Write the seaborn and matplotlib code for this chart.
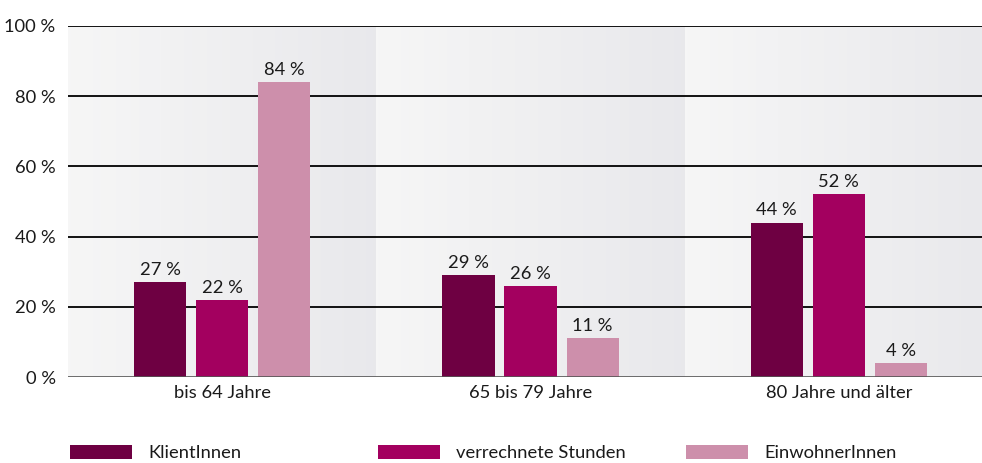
import numpy as np
import pandas as pd
import matplotlib
matplotlib.use("Agg")
import matplotlib.pyplot as plt
import seaborn as sns
from matplotlib.patches import Patch

categories = ["bis 64 Jahre", "65 bis 79 Jahre", "80 Jahre und älter"]
series_names = ["KlientInnen", "verrechnete Stunden", "EinwohnerInnen"]
klienten = [27, 29, 44]
stunden = [22, 26, 52]
einwohner = [84, 11, 4]
yticks = [0, 20, 40, 60, 80, 100]
colors = ["#6e0042", "#a3005f", "#cd8fab"]

rows = []
for name, vals in zip(series_names, [klienten, stunden, einwohner]):
    for c, v in zip(categories, vals):
        rows.append({"Gruppe": c, "Serie": name, "Wert": v})
df = pd.DataFrame(rows)

sns.set_theme(style="white")
plt.rcParams["font.family"] = ["Lato", "DejaVu Sans"]
FS = 13.2

fig = plt.figure(figsize=(9.82, 4.63), dpi=100)
ax = fig.add_axes([68/982, 1-377/463, 1-68/982, (377-26)/463])

xmax = 2.5 - 11/308
grad = np.linspace(0, 1, 256)
for i in range(3):
    c0 = np.array([0.965, 0.965, 0.965])
    c1 = np.array([0.912, 0.912, 0.925])
    img = (c0[None, :] * (1 - grad[:, None]) + c1[None, :] * grad[:, None])[None, :, :]
    ax.imshow(img, extent=[i-0.5, i+0.5, 0, 100], aspect="auto", zorder=0,
              interpolation="bilinear")

sns.barplot(data=df, x="Gruppe", y="Wert", hue="Serie", palette=colors,
            width=0.604, gap=0.16, ax=ax, legend=False, zorder=3,
            saturation=1, errorbar=None, linewidth=0)

for y in yticks[1:]:
    ax.axhline(y, color="black", lw=1.3, zorder=1)
ax.axhline(0, color="#555555", lw=1.2, zorder=4)

for cont in ax.containers:
    ax.bar_label(cont, labels=[f"{v:.0f} %" for v in cont.datavalues],
                 padding=3, fontsize=FS, color="#1a1a1a")

ax.set_xlim(-0.5, xmax)
ax.set_ylim(0, 100)
ax.set_yticks(yticks)
ax.set_yticklabels([f"{v} %" for v in yticks], fontsize=FS, color="#1a1a1a")
ax.tick_params(axis="y", length=0, pad=9)
ax.tick_params(axis="x", length=0, pad=6, labelsize=FS, labelcolor="#1a1a1a")
ax.set_xlabel("")
ax.set_ylabel("")
for s in ax.spines.values():
    s.set_visible(False)

fs_px = FS * 100 / 72
leg_x = [70, 378, 686]
for name, c, x0 in zip(series_names, colors, leg_x):
    leg = fig.legend([Patch(facecolor=c, edgecolor="none")], [name],
                     loc="center left", bbox_to_anchor=(x0/982, 1-453/463),
                     frameon=False, fontsize=FS, handlelength=62/fs_px,
                     handleheight=15/fs_px, handletextpad=16/fs_px,
                     borderaxespad=0, borderpad=0)
    for t in leg.get_texts():
        t.set_color("#1a1a1a")

fig.savefig("out.png", dpi=100)
